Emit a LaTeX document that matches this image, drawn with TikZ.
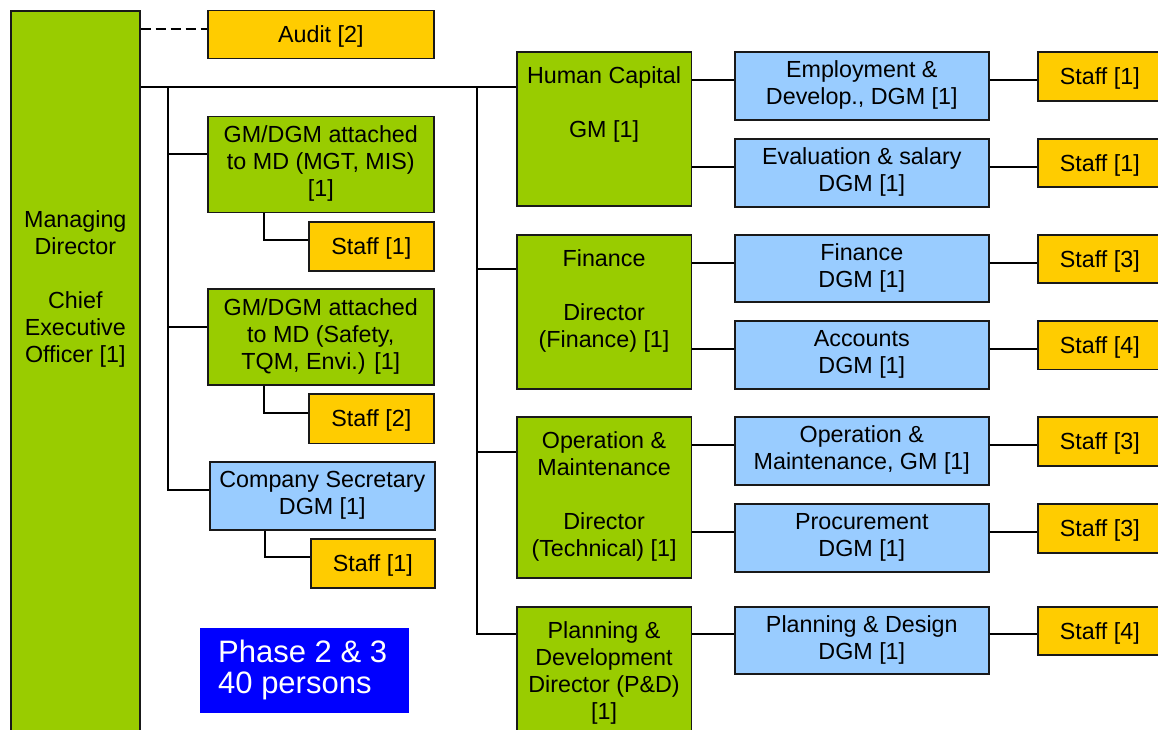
\documentclass[tikz,border=0pt]{standalone}
\usepackage{fontspec}
\setmainfont{Liberation Sans}
\definecolor{dirgreen}{HTML}{99CC00}
\definecolor{staffgold}{HTML}{FFCC00}
\definecolor{dgmblue}{HTML}{99CCFF}
\definecolor{phaseblue}{HTML}{0000FF}
\newcommand\orgfont{\fontsize{23.3}{27}\selectfont}
\tikzset{
  box/.style={draw=black!90, line width=1.6pt, inner sep=0pt, align=center,
              font=\orgfont, anchor=north west},
  gbox/.style={box, fill=dirgreen},
  ybox/.style={box, fill=staffgold},
  bbox/.style={box, fill=dgmblue},
  oneline/.style={text height=16.5pt, text depth=0pt},
  stafbox/.style={ybox, oneline, minimum width=124pt, minimum height=49pt},
  lstafbox/.style={ybox, oneline, minimum width=125pt, minimum height=49pt},
  dgmbox/.style={bbox, minimum width=254pt, minimum height=68pt},
  dirbox/.style={gbox, minimum width=174.5pt},
  toptext/.style={anchor=north, inner sep=0pt, align=center, font=\orgfont},
  wire/.style={draw=black, line width=1.5pt},
}
\begin{document}
\begin{tikzpicture}[x=1pt, y=-1pt]
\useasboundingbox (0,0) rectangle (1158,729);
\clip (0,0) rectangle (1158,729);

% ---------- top of the hierarchy ----------
\node[gbox, minimum width=129pt, minimum height=740pt] (md) at (10,10) {};
\node[toptext] (md-t) at ([yshift=-198.4pt]md.north)
  {\strut Managing\\Director\\[27pt]Chief\\Executive\\Officer [1]};
\node[ybox, oneline, minimum width=226pt, minimum height=48pt] (audit) at (207,9.5) {Audit [2]};

% ---------- staff units attached to the MD ----------
\node[gbox, minimum width=226pt, minimum height=96pt] (gm1) at (207,115.5)
  {\strut GM/DGM attached\\to MD (MGT, MIS)\\\strut{}[1]};
\node[lstafbox] (gs1) at (308,221) {Staff [1]};
\node[gbox, minimum width=226pt, minimum height=96pt] (gm2) at (207,288)
  {\strut GM/DGM attached\\to MD (Safety,\\\strut TQM, Envi.) [1]};
\node[lstafbox, minimum height=49.5pt] (gs2) at (308,393) {Staff [2]};
\node[bbox, minimum width=225pt, minimum height=68pt] (cs) at (209,461)
  {\strut Company Secretary\\\strut DGM [1]};
\node[lstafbox, minimum width=124pt] (gs3) at (310,538) {Staff [1]};

% ---------- summary ----------
\node[fill=phaseblue, inner sep=0pt, anchor=north west,
      minimum width=209pt, minimum height=85pt] (phase) at (200,628) {};
\node[anchor=north west, inner sep=0pt, align=left, text=white,
      font=\fontsize{31}{31.6}\selectfont] (phase-t) at (218,639.6)
  {\strut Phase 2 \& 3\\40 persons};

% ---------- directors ----------
\node[dirbox, minimum height=154pt] (hc) at (516,51) {};
\node[toptext] (hc-t) at ([yshift=-13.1pt]hc.north) {\strut Human Capital\\[27pt]GM [1]};
\node[dirbox, minimum height=154pt] (fin) at (516,234) {};
\node[toptext] (fin-t) at ([yshift=-13.1pt]fin.north)
  {\strut Finance\\[27pt]Director\\(Finance) [1]};
\node[dirbox, minimum height=161pt] (om) at (516,416) {};
\node[toptext] (om-t) at ([yshift=-13.1pt]om.north)
  {\strut Operation \&\\Maintenance\\[27pt]Director\\(Technical) [1]};
\node[dirbox, minimum height=140pt] (pd) at (516,606) {};
\node[toptext] (pd-t) at ([yshift=-13.1pt]pd.north)
  {\strut Planning \&\\Development\\Director (P\&D)\\{[1]}};

% ---------- departments ----------
\node[dgmbox] (emp)  at (734,51)  {\strut Employment \&\\\strut Develop., DGM [1]};
\node[dgmbox] (eval) at (734,138) {\strut Evaluation \& salary\\\strut DGM [1]};
\node[dgmbox, minimum height=67pt] (fdgm) at (734,234) {\strut Finance\\\strut DGM [1]};
\node[dgmbox] (acc)  at (734,320) {\strut Accounts\\\strut DGM [1]};
\node[dgmbox] (omgm) at (734,416) {\strut Operation \&\\\strut Maintenance, GM [1]};
\node[dgmbox] (proc) at (734,503) {\strut Procurement\\\strut DGM [1]};
\node[dgmbox, minimum height=67pt] (pdd) at (734,606) {\strut Planning \& Design\\\strut DGM [1]};

% ---------- staff ----------
\node[stafbox] (s1) at (1037,51)  {Staff [1]};
\node[stafbox, minimum height=48pt] (s2) at (1037,138) {Staff [1]};
\node[stafbox, minimum height=48pt] (s3) at (1037,234) {Staff [3]};
\node[stafbox, minimum height=48.5pt] (s4) at (1037,320) {Staff [4]};
\node[stafbox] (s5) at (1037,416) {Staff [3]};
\node[stafbox] (s6) at (1037,503) {Staff [3]};
\node[stafbox, minimum height=48pt] (s7) at (1037,606) {Staff [4]};

% ---------- connector rows and junctions ----------
\coordinate (ya)  at (0,29);
\coordinate (jl)  at (168,87);
\coordinate (jm)  at (477,87);
\coordinate (y1)  at (0,154);
\coordinate (y2)  at (0,327);
\coordinate (y3)  at (0,490);
\coordinate (xs)  at (264,0);
\coordinate (xs3) at (265,0);
\coordinate (ys1) at (0,240);
\coordinate (ys2) at (0,413);
\coordinate (ys3) at (0,557);
\coordinate (yf)  at (0,269);
\coordinate (yo)  at (0,452);
\coordinate (yp)  at (0,634);
\coordinate (r1)  at (0,80);
\coordinate (r2)  at (0,167);
\coordinate (r3)  at (0,263);
\coordinate (r4)  at (0,349);
\coordinate (r5)  at (0,445);
\coordinate (r6)  at (0,532);

% ---------- connectors ----------
\draw[wire, dash pattern=on 10pt off 5pt] (md.east |- ya) -- (audit.west |- ya);
\draw[wire] (md.east |- jl) -- (hc.west |- jl);
\draw[wire] (jl) |- (cs.west |- y3);
\draw[wire] (jl |- y1) -- (gm1.west |- y1);
\draw[wire] (jl |- y2) -- (gm2.west |- y2);
\draw[wire] (gm1.south -| xs) |- (gs1.west |- ys1);
\draw[wire] (gm2.south -| xs) |- (gs2.west |- ys2);
\draw[wire] (cs.south -| xs3) |- (gs3.west |- ys3);

\draw[wire] (jm) |- (pd.west |- yp);
\draw[wire] (jm |- yf) -- (fin.west |- yf);
\draw[wire] (jm |- yo) -- (om.west |- yo);

\draw[wire] (hc.east |- r1)  -- (emp.west |- r1);
\draw[wire] (emp.east |- r1) -- (s1.west |- r1);
\draw[wire] (hc.east |- r2)  -- (eval.west |- r2);
\draw[wire] (eval.east |- r2) -- (s2.west |- r2);
\draw[wire] (fin.east |- r3) -- (fdgm.west |- r3);
\draw[wire] (fdgm.east |- r3) -- (s3.west |- r3);
\draw[wire] (fin.east |- r4) -- (acc.west |- r4);
\draw[wire] (acc.east |- r4) -- (s4.west |- r4);
\draw[wire] (om.east |- r5) -- (omgm.west |- r5);
\draw[wire] (omgm.east |- r5) -- (s5.west |- r5);
\draw[wire] (om.east |- r6) -- (proc.west |- r6);
\draw[wire] (proc.east |- r6) -- (s6.west |- r6);
\draw[wire] (pd.east |- yp) -- (pdd.west |- yp);
\draw[wire] (pdd.east |- yp) -- (s7.west |- yp);
\end{tikzpicture}
\end{document}
